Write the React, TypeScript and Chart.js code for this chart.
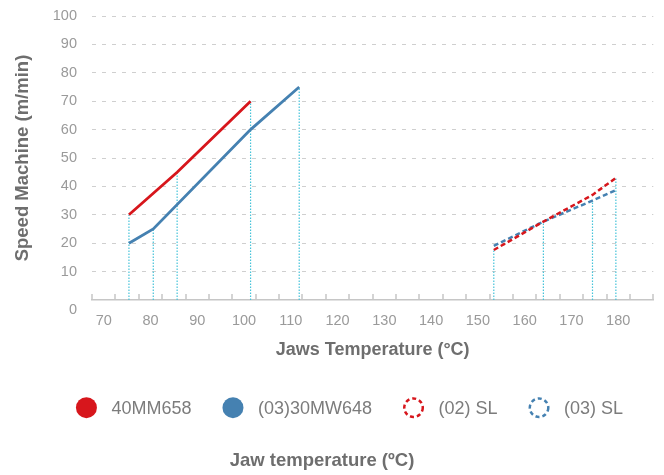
import React, { useEffect, useRef } from "react";
import { Chart, registerables } from "chart.js";

Chart.register(...registerables);

// ---- data ----
const seriesNames = ["40MM658", "(03)30MW648", "(02) SL", "(03) SL"];
const redX = [75.4, 85.7, 101.4];
const redY = [30, 45, 70];
const blueX = [75.4, 80.6, 101.4, 111.8];
const blueY = [20, 25, 60, 75];
const slX = [153.4, 164, 174.5, 179.5];
const redSlY = [17.6, 27.6, 37, 43];
const blueSlY = [19.1, 27.6, 35, 38.7];
const dropX = [75.4, 80.6, 85.7, 101.4, 111.8, 153.4, 164, 174.5, 179.5];
const dropTop = [30, 25, 45, 70, 75, 17.6, 27.6, 34.6, 43];
const xTickLabels = [70, 80, 90, 100, 110, 120, 130, 140, 150, 160, 170, 180];
const xTickMarks = [
  67.5, 72.5, 77.5, 82.5, 87.5, 92.5, 97.5, 102.5, 107.5, 112.5, 117.5, 122.5,
  127.5, 132.5, 137.5, 142.5, 147.5, 152.5, 157.5, 162.5, 167.5, 172.5, 177.5,
  182.5, 187.5,
];
const yTickValues = [0, 10, 20, 30, 40, 50, 60, 70, 80, 90, 100];
const xTitle = "Jaws Temperature (°C)";
const yTitle = "Speed Machine (m/min)";
const bottomTitle = "Jaw temperature (ºC)";

// ---- styles ----
const FONT = '"Liberation Sans", Arial, Helvetica, sans-serif';
const RED = "#d7161c";
const BLUE = "#4581b1";
const CYAN = "#45c3d9";
const GRID = "#cfcfcf";
const AXIS = "#c6c6c6";
const TICK = "#9a9a9a";
const TITLE = "#6e6e6e";
const LEGEND_TEXT = "#7c7c7c";

const pts = (xs: number[], ys: number[]) => xs.map((x, i) => ({ x, y: ys[i] }));

const dropData = () => {
  const out: any[] = [];
  dropX.forEach((x, i) => {
    out.push({ x, y: 0 });
    out.push({ x, y: dropTop[i] });
    out.push({ x, y: null });
  });
  return out;
};

const overlayPlugin = {
  id: "overlay",
  afterDraw(chart: any) {
    const { ctx, chartArea, scales } = chart;
    const xs = scales.x;
    const ys = scales.y;
    const base = ys.getPixelForValue(0);
    ctx.save();
    // small tick marks on x axis (pointing up)
    ctx.strokeStyle = AXIS;
    ctx.lineWidth = 1.5;
    xTickMarks.forEach((v) => {
      const px = Math.round(xs.getPixelForValue(v));
      ctx.beginPath();
      ctx.moveTo(px, base);
      ctx.lineTo(px, base - 6);
      ctx.stroke();
    });
    // "0" label sitting below the axis line
    ctx.fillStyle = TICK;
    ctx.font = `14.5px ${FONT}`;
    ctx.textAlign = "right";
    ctx.textBaseline = "middle";
    ctx.fillText("0", chartArea.left - 15, base + 10);

    // legend
    const items = chart.data.datasets.filter((d: any) => seriesNames.includes(d.label));
    ctx.font = `18px ${FONT}`;
    const r = 10.5;
    const circleToText = 25;
    const gap = 31;
    const widths = items.map((d: any) => ctx.measureText(d.label).width);
    let total = 0;
    widths.forEach((w: number, i: number) => {
      total += r + circleToText + w + (i < widths.length - 1 ? gap : 0);
    });
    const centerX = 341.5;
    const cy = 399.7;
    let x = centerX - total / 2;
    items.forEach((d: any, i: number) => {
      const cx = x + r;
      ctx.beginPath();
      if (d.borderDash && d.borderDash.length) {
        ctx.setLineDash([4, 3]);
        ctx.lineWidth = 2.5;
        ctx.strokeStyle = d.borderColor;
        ctx.arc(cx, cy, r - 1.25, 0, Math.PI * 2);
        ctx.stroke();
        ctx.setLineDash([]);
      } else {
        ctx.fillStyle = d.borderColor;
        ctx.arc(cx, cy, r, 0, Math.PI * 2);
        ctx.fill();
      }
      ctx.fillStyle = LEGEND_TEXT;
      ctx.textAlign = "left";
      ctx.textBaseline = "middle";
      ctx.fillText(d.label, cx + circleToText, cy + 1);
      x = cx + circleToText + widths[i] + gap;
    });

    // bottom title
    ctx.font = `bold 18.5px ${FONT}`;
    ctx.fillStyle = TITLE;
    ctx.textAlign = "center";
    ctx.textBaseline = "middle";
    ctx.fillText(bottomTitle, 314, 453);
    ctx.restore();
  },
};

export default function App() {
  const ref = useRef<HTMLCanvasElement | null>(null);

  useEffect(() => {
    if (!ref.current) return;
    Chart.defaults.font.family = FONT;
    const chart = new Chart(ref.current, {
      type: "line",
      data: {
        datasets: [
          {
            label: seriesNames[0],
            data: pts(redX, redY),
            borderColor: RED,
            backgroundColor: RED,
            borderWidth: 2.8,
            pointRadius: 0,
            tension: 0,
            order: 1,
          },
          {
            label: seriesNames[1],
            data: pts(blueX, blueY),
            borderColor: BLUE,
            backgroundColor: BLUE,
            borderWidth: 2.8,
            pointRadius: 0,
            tension: 0,
            order: 1,
          },
          {
            label: seriesNames[2],
            data: pts(slX, redSlY),
            borderColor: RED,
            backgroundColor: "#ffffff",
            borderWidth: 2.5,
            borderDash: [5, 3],
            pointRadius: 0,
            tension: 0,
            order: 1,
          },
          {
            label: seriesNames[3],
            data: pts(slX, blueSlY),
            borderColor: BLUE,
            backgroundColor: "#ffffff",
            borderWidth: 2.5,
            borderDash: [5, 3],
            pointRadius: 0,
            tension: 0,
            order: 1,
          },
          {
            label: "drop",
            data: dropData(),
            borderColor: CYAN,
            borderWidth: 1.2,
            borderDash: [1.5, 1.5],
            pointRadius: 0,
            spanGaps: false,
            order: 10,
          },
        ],
      },
      options: {
        responsive: false,
        animation: false,
        layout: { padding: { top: 8, right: 2.7, bottom: 87, left: 0 } },
        plugins: {
          legend: { display: false },
          title: { display: false },
          tooltip: { enabled: false },
        },
        scales: {
          x: {
            type: "linear",
            min: 67.5,
            max: 187.5,
            afterBuildTicks: (s: any) => {
              s.ticks = xTickLabels.map((v) => ({ value: v }));
            },
            afterFit: (s: any) => {
              s.height = 88;
            },
            grid: { display: true, drawOnChartArea: false, drawTicks: false },
            border: { display: true, color: AXIS, width: 1.5 },
            ticks: {
              color: TICK,
              font: { size: 14.5, lineHeight: 1 },
              padding: 13.5,
              maxRotation: 0,
              autoSkip: false,
            },
            title: {
              display: true,
              text: xTitle,
              color: TITLE,
              font: { size: 18, weight: "bold" },
              padding: { top: 0, bottom: 27.2 },
            },
          },
          y: {
            type: "linear",
            min: 0,
            max: 100,
            afterBuildTicks: (s: any) => {
              s.ticks = yTickValues.map((v) => ({ value: v }));
            },
            afterFit: (s: any) => {
              s.width = 84;
            },
            grid: {
              color: (c: any) => (c.tick && c.tick.value === 0 ? "rgba(0,0,0,0)" : GRID),
              lineWidth: 1,
              drawTicks: true,
              tickLength: 15,
              tickColor: "rgba(0,0,0,0)",
            },
            border: { display: false, dash: [4, 6] },
            ticks: {
              color: TICK,
              font: { size: 14.5, lineHeight: 1 },
              padding: 0,
              callback: (v: any) => (v === 0 ? "" : String(v)),
            },
            title: {
              display: true,
              text: yTitle,
              color: TITLE,
              font: { size: 18.5, weight: "bold" },
              padding: { top: 3.5, bottom: 0 },
            },
          },
        },
      },
      plugins: [overlayPlugin],
    } as any);
    return () => chart.destroy();
  }, []);

  return (
    <div style={{ width: 648, height: 467 }}>
      <canvas ref={ref} width={648} height={467} style={{ display: "block" }} />
    </div>
  );
}
